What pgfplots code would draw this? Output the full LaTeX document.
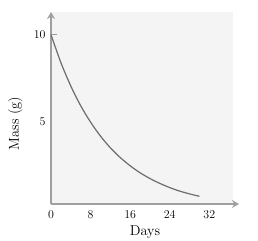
\documentclass[border=0pt]{standalone}
\usepackage{pgfplots}
\pgfplotsset{compat=1.18}
\usetikzlibrary{arrows.meta}
\begin{document}
\begin{tikzpicture}[x=1bp,y=1bp]
\path[use as bounding box] (-51bp,-37bp) rectangle (207bp,204bp);
\fill[gray!9] (0,0) rectangle (182bp,192bp);
\begin{axis}[
  at={(0,0)}, anchor=south west,
  scale only axis, width=188bp, height=192bp,
  xmin=0, xmax=38, ymin=0.3, ymax=11.3,
  axis lines=left,
  axis line style={draw=gray!75, line width=2pt, -{Stealth[length=7bp,width=8bp]}},
  xtick={0,8,16,24,32},
  ytick={5,10},
  major tick length=0pt,
  extra y ticks={10}, extra y tick labels={},
  extra tick style={major tick length=6bp, tick style={draw=gray!80, line width=0.8pt}, tick align=inside},
  tick label style={font=\large},
  xticklabel style={yshift=-3bp},
  yticklabel style={xshift=-2bp},
  xlabel={Days}, ylabel={Mass (g)},
  every axis x label/.style={at={(axis description cs:0.5,-0.146)}, anchor=center, font=\Large},
  every axis y label/.style={at={(axis description cs:-0.19,0.42)}, anchor=center, rotate=90, font=\Large},
  clip=false,
]
\addplot[gray!85!black, line width=1.2pt, smooth] coordinates {
(0,10) (2,8.4) (4,7.06) (6,5.93) (8,4.99) (10,4.19) (12,3.52) (14,2.96)
(16,2.49) (18,2.09) (20,1.76) (22,1.48) (24,1.24) (26,1.04) (28,0.88) (30,0.74)
};
\end{axis}
\end{tikzpicture}
\end{document}
